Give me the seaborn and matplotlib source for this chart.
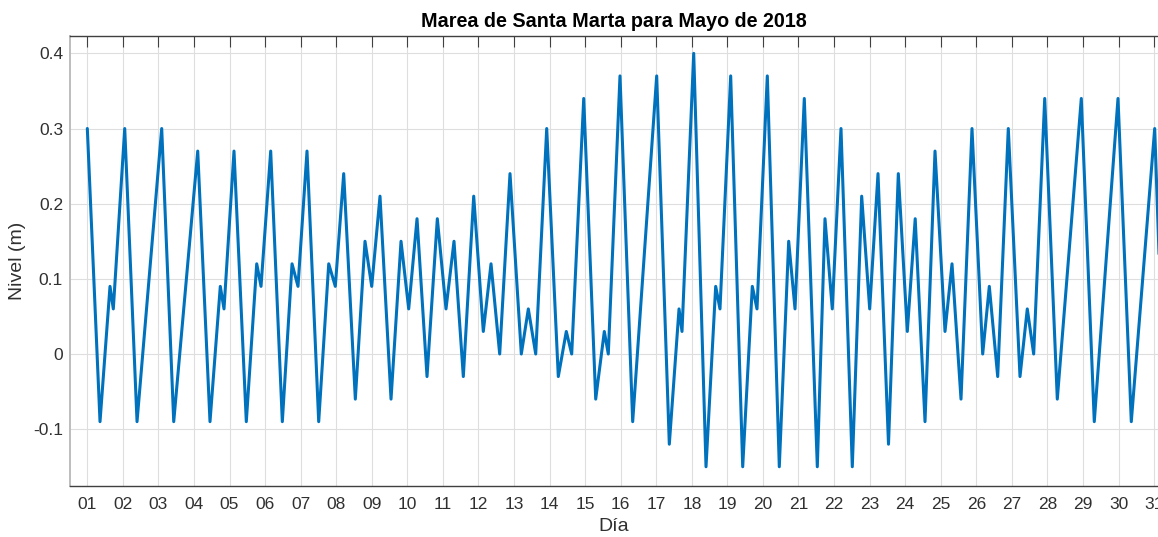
import matplotlib
matplotlib.use("Agg")
import matplotlib.pyplot as plt
import seaborn as sns
import pandas as pd

# Extremos de marea (día del mes, nivel en m)
dia = [1.00, 1.357, 1.638, 1.731,
       2.052, 2.398,
       3.092, 3.43,
       4.105, 4.45, 4.74, 4.844,
       5.125, 5.471, 5.764, 5.885,
       6.157, 6.484, 6.757, 6.925,
       7.178, 7.507, 7.789, 7.974,
       8.21, 8.537, 8.809, 8.998,
       9.231, 9.541, 9.822,
       10.038, 10.272, 10.553, 10.843,
       11.087, 11.312, 11.574, 11.866,
       12.136, 12.353, 12.597, 12.887,
       13.205, 13.402, 13.61, 13.919,
       14.245, 14.47, 14.622, 14.96,
       15.297, 15.539, 15.651, 15.98,
       16.337,
       17.012, 17.367, 17.64, 17.724,
       18.053, 18.399, 18.671, 18.792,
       19.093, 19.431, 19.701, 19.833,
       20.123, 20.46, 20.724, 20.902,
       21.163, 21.529, 21.745, 21.95,
       22.195, 22.513, 22.777,
       23.002, 23.236, 23.531, 23.807,
       24.06, 24.282, 24.558, 24.839,
       25.12, 25.317, 25.57, 25.879,
       26.18, 26.366, 26.602, 26.9,
       27.229, 27.434, 27.614, 27.924,
       28.278, 28.953,
       29.318, 29.985,
       30.359,
       31.017, 31.30]

nivel = [0.30, -0.09, 0.09, 0.06,
         0.30, -0.09,
         0.30, -0.09,
         0.27, -0.09, 0.09, 0.06,
         0.27, -0.09, 0.12, 0.09,
         0.27, -0.09, 0.12, 0.09,
         0.27, -0.09, 0.12, 0.09,
         0.24, -0.06, 0.15, 0.09,
         0.21, -0.06, 0.15,
         0.06, 0.18, -0.03, 0.18,
         0.06, 0.15, -0.03, 0.21,
         0.03, 0.12, 0.00, 0.24,
         0.00, 0.06, 0.00, 0.30,
         -0.03, 0.03, 0.00, 0.34,
         -0.06, 0.03, 0.00, 0.37,
         -0.09,
         0.37, -0.12, 0.06, 0.03,
         0.40, -0.15, 0.09, 0.06,
         0.37, -0.15, 0.09, 0.06,
         0.37, -0.15, 0.15, 0.06,
         0.34, -0.15, 0.18, 0.06,
         0.30, -0.15, 0.21,
         0.06, 0.24, -0.12, 0.24,
         0.03, 0.18, -0.09, 0.27,
         0.03, 0.12, -0.06, 0.30,
         0.00, 0.09, -0.03, 0.30,
         -0.03, 0.06, 0.00, 0.34,
         -0.06, 0.34,
         -0.09, 0.34,
         -0.09,
         0.30, -0.09]

dias_ticks = list(range(1, 32))
dias_labels = [f"{d:02d}" for d in dias_ticks]
y_ticks = [-0.1, 0.0, 0.1, 0.2, 0.3, 0.4]
y_labels = ["-0.1", "0", "0.1", "0.2", "0.3", "0.4"]

sns.set_theme(style="white")
plt.rcParams['font.family'] = ['Liberation Sans', 'DejaVu Sans']

df = pd.DataFrame({"Día": dia, "Nivel": nivel})

fig = plt.figure(figsize=(11.58, 5.37), dpi=100)
ax = fig.add_axes([70 / 1158, 1 - 486 / 537, 1 - 70 / 1158, (486 - 35.7) / 537])

sns.lineplot(data=df, x="Día", y="Nivel", ax=ax, color="#0072BD",
             linewidth=2.2, estimator=None, sort=False)

ax.set_xlim(0.513, 31.11)
ax.set_ylim(-0.1756, 0.4235)
ax.set_xticks(dias_ticks)
ax.set_xticklabels(dias_labels)
ax.set_yticks(y_ticks)
ax.set_yticklabels(y_labels)

txt = "#303030"
ax.grid(True, color="#DEDEDE", linewidth=0.8)
ax.set_axisbelow(True)
for s in ax.spines.values():
    s.set_color("#404040")
    s.set_linewidth(1.0)
ax.spines["left"].set_color("#BDBDBD")
ax.spines["left"].set_linewidth(1.4)
ax.spines["right"].set_visible(False)
ax.tick_params(axis="both", direction="in", length=7.9, width=0.8,
               colors="#404040", labelsize=12.5, labelcolor=txt)
ax.tick_params(axis="x", top=True, pad=8)
ax.tick_params(axis="y", right=False, pad=5)
ax.set_xlabel("Día", fontsize=14, color=txt, labelpad=4)
ax.set_ylabel("Nivel (m)", fontsize=14, color=txt, labelpad=5)
ax.set_title("Marea de Santa Marta para Mayo de 2018", fontsize=14.2,
             fontweight="bold", color="black", pad=6)

fig.savefig("out.png", dpi=100)
